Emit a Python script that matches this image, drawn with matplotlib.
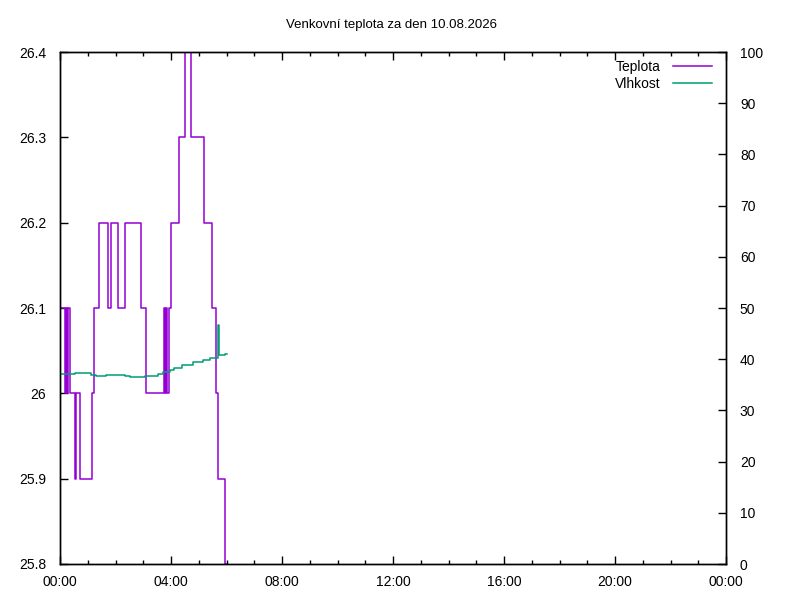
import numpy as np
import matplotlib
matplotlib.use("Agg")
import matplotlib.pyplot as plt
from matplotlib.ticker import MultipleLocator, FuncFormatter

plt.rcParams['font.family'] = ['Liberation Sans', 'DejaVu Sans']

# --- data (minutes since midnight) ---
temp_min = [0, 11, 14, 16, 18, 21, 33, 35, 44, 69, 73, 84, 104, 110, 126, 141,
            176, 186, 225, 227, 229, 231, 235, 239, 258, 270, 284, 311, 328,
            337, 342, 356, 358]
temp_val = [26.1, 26.0, 26.1, 26.0, 26.1, 26.0, 25.9, 26.0, 25.9, 26.0, 26.1,
            26.2, 26.1, 26.2, 26.1, 26.2, 26.1, 26.0, 26.1, 26.0, 26.1, 26.0,
            26.1, 26.2, 26.3, 26.4, 26.3, 26.2, 26.1, 26.0, 25.9, 25.8, 25.8]

hum_min = [0, 17, 32, 68, 78, 100, 140, 151, 183, 211, 223, 238, 247, 263,
           288, 310, 324, 342, 343, 344, 357, 360]
hum_val = [37.05, 37.2, 37.3, 37.0, 36.7, 37.0, 36.8, 36.6, 36.8, 37.2, 37.5,
           37.9, 38.2, 38.9, 39.4, 39.8, 40.2, 46.7, 43.6, 40.9, 41.1, 41.1]

title = "Venkovní teplota za den 10.08.2026"

# ── figure ────────────────────────────────────────────────────────────────
fig = plt.figure(figsize=(8, 6), dpi=100)
ax = fig.add_axes([0.075, 0.06, 0.8325, 0.8533])
ax2 = ax.twinx()

t_h = np.array(temp_min) / 60.0
h_h = np.array(hum_min) / 60.0

l1, = ax.plot(t_h, temp_val, drawstyle='steps-post', color='#9400d3', lw=1.1,
              label='Teplota')
l2, = ax2.plot(h_h, hum_val, drawstyle='steps-post', color='#009e73', lw=1.1,
               label='Vlhkost')

ax.set_xlim(0, 24)
ax.set_ylim(25.8, 26.4)
ax2.set_ylim(0, 100)

ax.xaxis.set_major_locator(MultipleLocator(4))
ax.xaxis.set_minor_locator(MultipleLocator(1))
ax.xaxis.set_major_formatter(FuncFormatter(lambda v, p: "%02d:00" % (int(round(v)) % 24)))
ax.yaxis.set_major_locator(MultipleLocator(0.1))
ax.yaxis.set_major_formatter(FuncFormatter(lambda v, p: ("%.1f" % v).rstrip('0').rstrip('.')))
ax2.yaxis.set_major_locator(MultipleLocator(10))

ax.tick_params(axis='x', which='major', direction='in', length=6, width=1,
               top=True, labelsize=10, pad=8)
ax.tick_params(axis='x', which='minor', direction='in', length=3, width=1, top=True)
ax.tick_params(axis='y', direction='in', length=6, width=1, labelsize=10, pad=10)
ax2.tick_params(axis='y', direction='in', length=6, width=1, labelsize=10, pad=10)

for a in (ax, ax2):
    for s in a.spines.values():
        s.set_linewidth(1.0)

fig.suptitle(title, fontsize=9.5, x=0.49, y=0.968)

ax2.legend(handles=[l1, l2], loc='upper right', bbox_to_anchor=(0.9914, 1.0),
           frameon=False, markerfirst=False, fontsize=10, handlelength=2.8,
           handletextpad=0.93, labelspacing=0.2, borderaxespad=0.2,
           borderpad=0.4)

fig.savefig("out.png", dpi=100)
